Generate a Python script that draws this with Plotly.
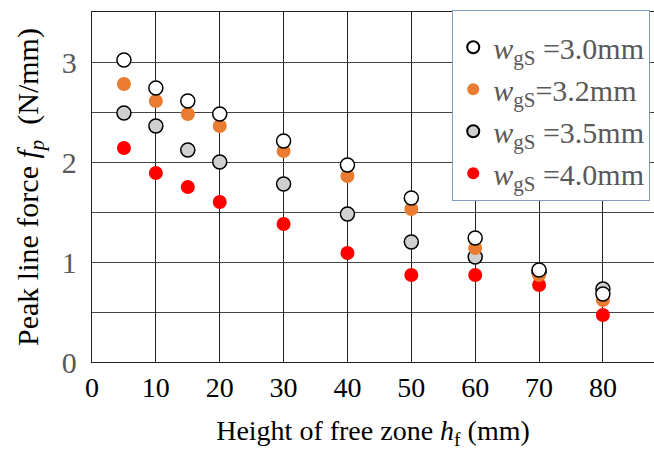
import plotly.graph_objects as go

h_f = [5, 10, 15, 20, 30, 40, 50, 60, 70, 80]
fp_30 = [3.02, 2.74, 2.61, 2.48, 2.21, 1.97, 1.64, 1.24, 0.92, 0.68]
fp_32 = [2.78, 2.61, 2.48, 2.36, 2.11, 1.86, 1.53, 1.14, 0.87, 0.62]
fp_35 = [2.49, 2.36, 2.12, 2.00, 1.78, 1.48, 1.20, 1.05, 0.90, 0.73]
fp_40 = [2.14, 1.89, 1.75, 1.60, 1.38, 1.09, 0.87, 0.87, 0.77, 0.47]

names = ["<i>w</i><sub>gS</sub> =3.0mm", "<i>w</i><sub>gS</sub>=3.2mm",
         "<i>w</i><sub>gS</sub> =3.5mm", "<i>w</i><sub>gS</sub> =4.0mm"]

FONT = "Liberation Serif, Times New Roman, serif"
fig = go.Figure()
# draw order: 4.0 at bottom, 3.0 on top
fig.add_trace(go.Scatter(x=h_f, y=fp_40, mode="markers", name=names[3], legendrank=4,
                         marker=dict(size=14, color="#FF0000", line=dict(width=0))))
fig.add_trace(go.Scatter(x=h_f, y=fp_35, mode="markers", name=names[2], legendrank=3,
                         marker=dict(size=14, color="#D0D0D0", line=dict(width=1.5, color="#000000"))))
fig.add_trace(go.Scatter(x=h_f, y=fp_32, mode="markers", name=names[1], legendrank=2,
                         marker=dict(size=14, color="#E97C30", line=dict(width=0))))
fig.add_trace(go.Scatter(x=h_f, y=fp_30, mode="markers", name=names[0], legendrank=1,
                         marker=dict(size=14, color="#FFFFFF", line=dict(width=1.5, color="#000000"))))

fig.update_layout(
    width=654, height=450,
    margin=dict(l=92, r=0, t=12, b=88),
    paper_bgcolor="white", plot_bgcolor="white",
    font=dict(family=FONT, size=26, color="black"),
    showlegend=True,
    legend=dict(x=0.641, y=1.006, xanchor="left", yanchor="top",
                bgcolor="white", bordercolor="#7F9BBF", borderwidth=1,
                font=dict(family=FONT, size=30, color="#595959"),
                title=dict(text="\u00a0", font=dict(size=8)),
                itemsizing="constant", tracegroupgap=0),
    xaxis=dict(range=[0, 88], tickvals=[0, 10, 20, 30, 40, 50, 60, 70, 80],
               showgrid=True, gridcolor="#222222", gridwidth=1.3,
               showline=True, linecolor="#222222", linewidth=1.3, mirror=True,
               ticks="", zeroline=False,
               tickfont=dict(family=FONT, size=28, color="black"),
               title=dict(text="Height of free zone <i>h</i><sub>f</sub> (mm)",
                          font=dict(family=FONT, size=28, color="black"), standoff=22)),
    yaxis=dict(range=[0, 3.5], tickvals=[0, 1, 2, 3],
               showgrid=True, gridcolor="#444444", gridwidth=1.3,
               minor=dict(dtick=0.5, showgrid=True, gridcolor="#444444", gridwidth=1.3),
               showline=True, linecolor="#222222", linewidth=1.3,
               ticks="", zeroline=False, ticklabelstandoff=8,
               tickfont=dict(family=FONT, size=30, color="#595959"),
               title=dict(text="Peak line force <i>f<sub>p</sub></i>  (N/mm)",
                          font=dict(family=FONT, size=30, color="black"), standoff=14)),
)

fig.write_html("out.html")
